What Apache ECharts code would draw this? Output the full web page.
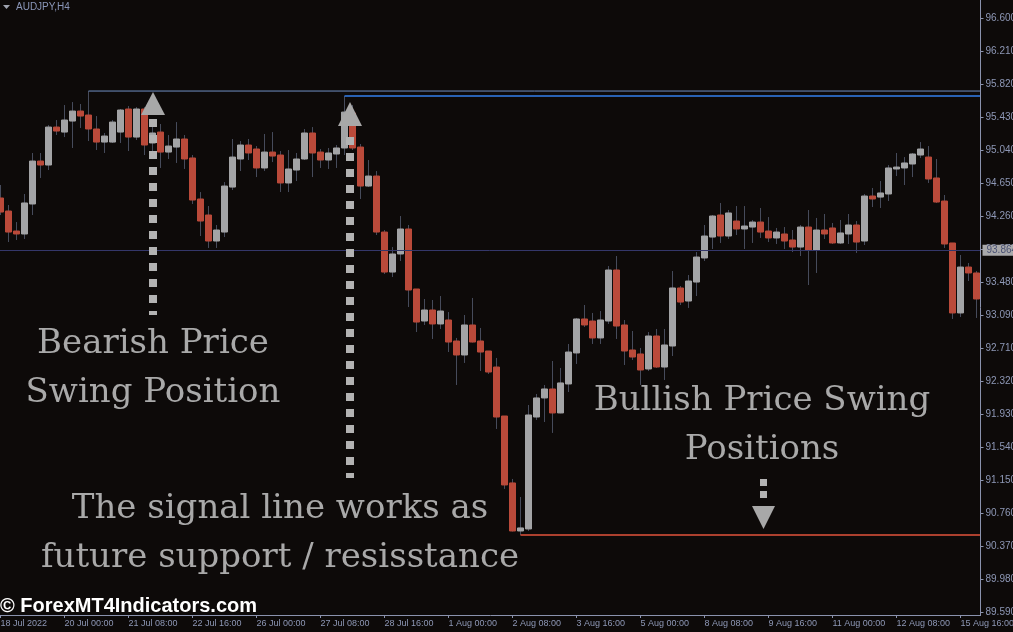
<!DOCTYPE html>
<html><head><meta charset="utf-8">
<script src="https://cdn.jsdelivr.net/npm/echarts@6/dist/echarts.min.js"></script>
<style>html,body{margin:0;padding:0;background:#0d0a09;}#c{width:1013px;height:632px;}</style>
</head><body><div id="c"></div>
<script>
const tickLabels = ['18 Jul 2022','20 Jul 00:00','21 Jul 08:00','22 Jul 16:00','26 Jul 00:00','27 Jul 08:00','28 Jul 16:00','1 Aug 00:00','2 Aug 08:00','3 Aug 16:00','5 Aug 00:00','8 Aug 08:00','9 Aug 16:00','11 Aug 00:00','12 Aug 08:00','15 Aug 16:00'];
const priceLabels = ['89.590','89.980','90.370','90.760','91.150','91.540','91.930','92.320','92.710','93.090','93.480','93.870','94.260','94.650','95.040','95.430','95.820','96.210','96.600'];
const priceMin = 89.59, priceMax = 96.60;

const open = [94.476,94.322,94.086,94.051,94.405,94.912,94.865,95.313,95.254,95.384,
95.502,95.455,95.290,95.136,95.136,95.254,95.526,95.195,95.526,95.125,
95.254,95.018,95.077,95.172,94.948,94.464,94.275,93.968,94.074,94.605,
94.936,95.101,95.054,94.830,95.018,94.983,94.653,94.806,94.936,95.243,
95.018,94.924,94.995,95.066,95.479,95.077,94.617,94.735,94.074,93.602,
93.815,94.110,93.402,93.024,93.154,92.989,93.036,92.788,92.623,92.977,
92.788,92.670,92.481,91.903,91.113,90.546,90.570,91.891,92.116,92.222,
91.939,92.281,92.647,93.048,93.024,92.824,93.024,93.626,92.977,92.682,
92.635,92.458,92.847,92.481,92.729,93.414,93.260,93.484,93.768,94.015,
94.275,94.027,94.204,94.110,94.133,94.192,94.086,94.004,94.051,93.980,
93.897,94.133,93.862,94.098,94.122,93.945,94.051,94.157,93.968,94.499,
94.487,94.523,94.818,94.830,94.877,94.983,94.959,94.712,94.440,93.945,
93.119,93.661,93.591];
const close = [94.310,94.074,94.051,94.417,94.912,94.865,95.313,95.266,95.396,95.502,
95.443,95.290,95.136,95.207,95.372,95.514,95.195,95.526,95.101,95.243,
95.018,95.089,95.172,94.936,94.452,94.204,93.968,94.098,94.617,94.959,
95.101,95.007,94.830,95.018,94.971,94.653,94.818,94.936,95.243,95.007,
94.924,95.007,95.066,95.490,95.066,94.617,94.735,94.074,93.602,93.815,
94.110,93.390,93.012,93.154,92.989,93.142,92.776,92.623,92.977,92.776,
92.658,92.422,91.891,91.089,90.546,90.582,91.915,92.116,92.222,91.939,
92.293,92.658,93.048,92.977,92.824,93.036,93.626,92.965,92.670,92.599,
92.446,92.847,92.481,92.741,93.414,93.248,93.496,93.779,94.027,94.263,
94.027,94.299,94.110,94.145,94.192,94.074,94.004,94.074,93.968,93.897,
94.133,93.862,94.098,94.051,93.945,94.063,94.157,93.956,94.499,94.464,
94.535,94.830,94.841,94.889,94.995,95.054,94.700,94.428,93.933,93.119,
93.661,93.591,93.284];
const low = [94.275,93.956,93.980,93.992,94.275,94.712,94.806,95.219,95.195,95.066,
95.302,95.148,95.042,95.007,95.125,95.125,95.030,95.160,94.983,95.007,
94.830,94.936,94.889,94.818,94.405,94.027,93.886,93.886,94.015,94.570,
94.794,94.924,94.723,94.794,94.900,94.546,94.546,94.676,94.924,94.723,
94.830,94.818,94.830,94.983,95.042,94.464,94.605,94.039,93.579,93.543,
93.732,93.189,92.894,92.977,92.812,92.930,92.658,92.269,92.529,92.770,
92.434,92.399,91.750,91.042,90.540,90.499,90.546,91.856,91.832,91.703,
91.935,92.186,92.517,92.953,92.753,92.753,92.989,92.812,92.505,92.564,
92.269,92.434,92.470,92.328,92.611,93.213,93.178,93.319,93.732,93.874,
93.945,93.992,94.039,93.874,93.945,94.004,93.956,93.933,93.874,93.838,
93.791,93.449,93.591,93.992,93.933,93.933,93.933,93.827,93.921,94.369,
94.358,94.440,94.735,94.629,94.723,94.948,94.653,94.417,93.886,93.048,
93.071,93.496,93.060];
const high = [94.629,94.393,94.192,94.523,95.007,95.007,95.337,95.396,95.573,95.608,
95.585,95.738,95.443,95.243,95.396,95.526,95.561,95.549,95.549,95.337,
95.349,95.219,95.372,95.219,94.983,94.546,94.381,94.157,94.664,95.172,
95.148,95.172,95.089,95.231,95.254,95.030,95.042,95.007,95.290,95.313,
95.054,95.066,95.101,95.679,95.573,95.113,94.924,94.794,94.098,93.897,
94.263,94.157,93.402,93.284,93.272,93.319,93.130,92.824,93.095,93.296,
92.942,92.670,92.588,91.903,91.160,90.947,92.033,92.163,92.269,92.552,
92.470,92.753,93.060,93.213,93.119,93.142,93.673,93.791,93.036,92.906,
92.706,92.894,92.930,92.930,93.614,93.437,93.567,93.838,94.157,94.275,
94.417,94.334,94.381,94.381,94.216,94.358,94.251,94.122,94.133,94.098,
94.157,94.334,94.240,94.287,94.181,94.216,94.287,94.204,94.523,94.594,
94.676,94.865,95.007,94.959,95.007,95.136,95.089,94.936,94.511,93.945,
93.803,93.709,93.614];

const swingHighIdx = [11, 43];
const swingLowIdx = [65];
const currentPrice = 93.864;

const categories = open.map((_, i) => String(i));
const wickData = open.map((o, i) => [o, close[i], low[i], high[i]]);
const bodyData = open.map((o, i) => [o, close[i], Math.min(o, close[i]), Math.max(o, close[i])]);
const lastX = open.length - 0.5;
const yStep = (priceMax - priceMin) / (priceLabels.length - 1);

const BULL = '#a3a4a6', BEAR = '#ba4a3a', WICK = '#464b5b', AXIS = '#8a92ad', LBL = '#8e98b6';
const TXT = '#a9a9a9', DOT = '#b3b3b3';
const every8 = (i) => i % 8 === 0;
const BIG = '34px "DejaVu Serif"';

const chart = echarts.init(document.getElementById('c'), null, {renderer: 'canvas'});
chart.setOption({
  backgroundColor: '#0d0a09',
  animation: false,
  grid: {left: -3.5, right: 32.5, top: 18, bottom: 20, containLabel: false, outerBoundsMode: 'none'},
  xAxis: [{
    type: 'category', data: categories, boundaryGap: true, offset: 3,
    axisLine: {show: false, onZero: false},
    axisTick: {show: true, interval: every8, alignWithLabel: true, length: 3, lineStyle: {color: AXIS}},
    axisLabel: {interval: every8, formatter: (v, i) => tickLabels[i / 8] || '', align: 'left', color: LBL, fontSize: 9, fontFamily: 'Liberation Sans', margin: 4, hideOverlap: false},
    splitLine: {show: false}
  }, {
    type: 'value', min: -0.5, max: lastX, show: false, axisLine: {onZero: false}
  }],
  yAxis: {
    type: 'value', position: 'right', min: priceMin, max: priceMax, interval: yStep,
    axisLine: {show: false, onZero: false},
    axisTick: {show: true, length: 3, lineStyle: {color: AXIS}},
    axisLabel: {formatter: (v) => priceLabels[Math.round((v - priceMin) / yStep)] || '', color: LBL, fontSize: 10, fontFamily: 'Liberation Sans', margin: 5},
    splitLine: {show: false}
  },
  series: [
    {
      type: 'candlestick', name: 'wick', data: wickData, barWidth: 1, z: 2,
      itemStyle: {color: WICK, color0: WICK, borderColor: WICK, borderColor0: WICK, borderWidth: 1}
    },
    {
      type: 'candlestick', name: 'body', data: bodyData, barWidth: 6, z: 3,
      itemStyle: {color: BULL, color0: BEAR, borderColor: BULL, borderColor0: BEAR, borderWidth: 1}
    },
    {
      type: 'line', xAxisIndex: 1, symbol: 'none', z: 4,
      data: [[swingHighIdx[0], high[swingHighIdx[0]]], [lastX, high[swingHighIdx[0]]]],
      lineStyle: {color: '#6f8fc4', width: 1}
    },
    {
      type: 'line', xAxisIndex: 1, symbol: 'none', z: 4,
      data: [[swingHighIdx[1], high[swingHighIdx[1]]], [lastX, high[swingHighIdx[1]]]],
      lineStyle: {color: '#3380ee', width: 1.5}
    },
    {
      type: 'line', xAxisIndex: 1, symbol: 'none', z: 4,
      data: [[swingLowIdx[0], low[swingLowIdx[0]]], [lastX, low[swingLowIdx[0]]]],
      lineStyle: {color: '#e2533b', width: 1.5},
      markLine: {
        silent: true, symbol: 'none', animation: false,
        data: [{yAxis: currentPrice}],
        lineStyle: {color: '#34376a', width: 1, type: 'solid'},
        label: {show: true, position: 'end', distance: 2, formatter: currentPrice.toFixed(3),
          backgroundColor: '#a9a9ab', color: '#4b5274', fontSize: 10, fontFamily: 'Liberation Sans', padding: [1, 3, 0, 4], lineHeight: 10}
      }
    }
  ],
  graphic: [
    {type: 'line', z: 50, shape: {x1: 980.5, y1: 0, x2: 980.5, y2: 615}, style: {stroke: AXIS, lineWidth: 1}},
    {type: 'line', z: 50, shape: {x1: 0, y1: 615.5, x2: 981, y2: 615.5}, style: {stroke: AXIS, lineWidth: 1}},
    {type: 'polygon', z: 50, shape: {points: [[3, 5], [10, 5], [6.5, 9]]}, style: {fill: '#a0a4b0'}},
    {type: 'text', z: 50, left: 16, top: 2, style: {text: 'AUDJPY,H4', fill: '#8a96b8', font: '10px "Liberation Sans"'}},
    {type: 'polygon', z: 60, shape: {points: [[153, 92], [165, 115], [141, 115]]}, style: {fill: '#a8a8a8'}},
    {type: 'line', z: 60, shape: {x1: 153, y1: 119, x2: 153, y2: 315}, style: {stroke: DOT, lineWidth: 8, lineDash: [8, 8]}},
    {type: 'polygon', z: 60, shape: {points: [[350, 102], [362, 126], [338, 126]]}, style: {fill: '#a8a8a8'}},
    {type: 'line', z: 60, shape: {x1: 350, y1: 137, x2: 350, y2: 478}, style: {stroke: DOT, lineWidth: 8, lineDash: [8, 8]}},
    {type: 'line', z: 60, shape: {x1: 763.5, y1: 479, x2: 763.5, y2: 498}, style: {stroke: DOT, lineWidth: 7, lineDash: [7, 5]}},
    {type: 'polygon', z: 60, shape: {points: [[752, 506], [775, 506], [763.5, 529]]}, style: {fill: '#a8a8a8'}},
    {type: 'text', z: 70, x: 153, y: 327, style: {text: 'Bearish Price', fill: TXT, font: BIG, textAlign: 'center'}},
    {type: 'text', z: 70, x: 153, y: 376, style: {text: 'Swing Position', fill: TXT, font: BIG, textAlign: 'center'}},
    {type: 'text', z: 70, x: 280, y: 492, style: {text: 'The signal line works as', fill: TXT, font: BIG, textAlign: 'center'}},
    {type: 'text', z: 70, x: 280, y: 541, style: {text: 'future support / resisstance', fill: TXT, font: BIG, textAlign: 'center'}},
    {type: 'text', z: 70, x: 762, y: 384, style: {text: 'Bullish Price Swing', fill: TXT, font: BIG, textAlign: 'center'}},
    {type: 'text', z: 70, x: 762, y: 433, style: {text: 'Positions', fill: TXT, font: BIG, textAlign: 'center'}},
    {type: 'text', z: 80, left: 0, top: 596, style: {text: '© ForexMT4Indicators.com', fill: '#ffffff', font: 'bold 20px "Liberation Sans"'}}
  ]
});
</script></body></html>
